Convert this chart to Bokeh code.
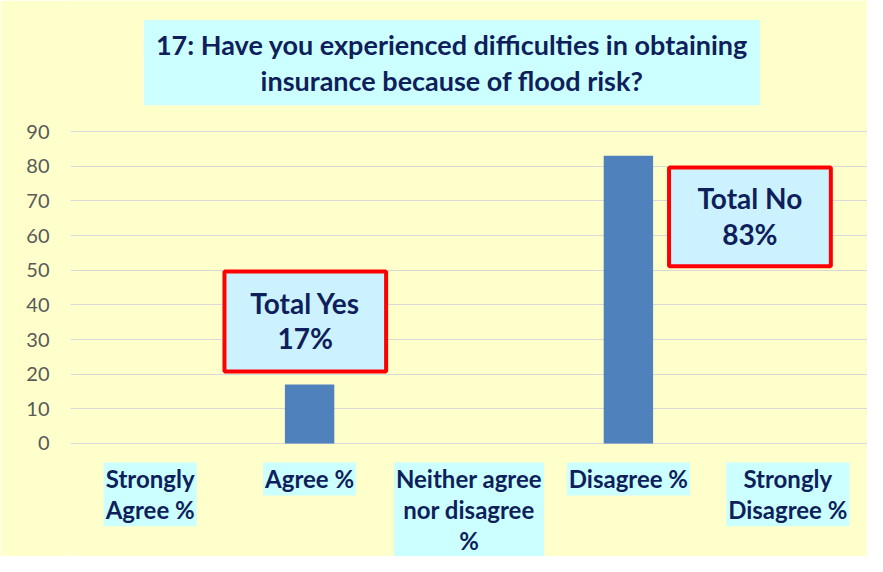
from bokeh.plotting import figure
from bokeh.models import Range1d, FixedTicker, Label, BoxAnnotation
from bokeh.embed import file_html
from bokeh.resources import INLINE

# ---- data ----
categories = ["Strongly\nAgree %", "Agree %", "Neither agree\nnor disagree\n%",
              "Disagree %", "Strongly\nDisagree %"]
values = [0, 17, 0, 83, 0]
y_ticks = [0, 10, 20, 30, 40, 50, 60, 70, 80, 90]
title_text = "17: Have you experienced difficulties in obtaining\ninsurance because of flood risk?"
total_yes = values[0] + values[1]
total_no = values[3] + values[4]

NAVY = "#0E1F5B"
FONT = "Lato"

xs = [i + 0.5 for i in range(len(categories))]

# frame covers the full figure height so that the title and category
# labels (drawn as annotations) are not clipped; grid lines only at y_ticks
p = figure(width=867, height=556, x_range=Range1d(0, len(categories)),
           y_range=Range1d(-32.6, 127.8),
           output_backend="svg", toolbar_location=None,
           background_fill_color="#FFFFCC", border_fill_color="#FFFFCC",
           min_border_left=70, min_border_right=0, min_border_top=0,
           min_border_bottom=0)
p.outline_line_color = None

p.vbar(x=xs, top=values, width=0.31, fill_color="#4F81BD", line_color=None)

p.xaxis.visible = False
p.xgrid.grid_line_color = None
p.ygrid.grid_line_color = "#D9D9D9"
p.ygrid.grid_line_width = 1
p.yaxis.ticker = FixedTicker(ticks=y_ticks)
p.yaxis.axis_line_color = None
p.yaxis.major_tick_line_color = None
p.yaxis.minor_tick_line_color = None
p.yaxis.major_label_standoff = 15
p.yaxis.major_label_text_font = FONT
p.yaxis.major_label_text_font_size = "20px"
p.yaxis.major_label_text_color = "#595959"

# title
p.add_layout(Label(x=2.393, y=109.9, text=title_text, text_align="center",
                   text_baseline="middle", text_font=FONT, text_font_style="bold",
                   text_font_size="27px", text_color=NAVY, text_line_height=1.1,
                   background_fill_color="#CCFFFF", padding=(12, 8)))

# category labels
for x, c in zip(xs, categories):
    p.add_layout(Label(x=x, y=0, y_offset=-19, text=c, text_align="center",
                       text_baseline="top", text_font=FONT, text_font_style="bold",
                       text_font_size="24px", text_color=NAVY, text_line_height=1.06,
                       background_fill_color="#CCFFFF", padding=(2, 2)))

# callout boxes
p.add_layout(BoxAnnotation(left=0.966, right=1.98, bottom=20.8, top=49.6,
                           fill_color="#CCF2FF", fill_alpha=1,
                           line_color="#FF0000", line_width=4, line_alpha=1))
p.add_layout(Label(x=1.473, y=35.5, text=f"Total Yes\n{total_yes}%", text_align="center",
                   text_baseline="middle", text_font=FONT, text_font_style="bold",
                   text_font_size="28px", text_color=NAVY, text_line_height=1.05))
p.add_layout(BoxAnnotation(left=3.755, right=4.77, bottom=51.1, top=79.6,
                           fill_color="#CCF2FF", fill_alpha=1,
                           line_color="#FF0000", line_width=4, line_alpha=1))
p.add_layout(Label(x=4.262, y=65.6, text=f"Total No\n{total_no}%", text_align="center",
                   text_baseline="middle", text_font=FONT, text_font_style="bold",
                   text_font_size="28px", text_color=NAVY, text_line_height=1.05))

open("out.html", "w").write(file_html(p, INLINE))
